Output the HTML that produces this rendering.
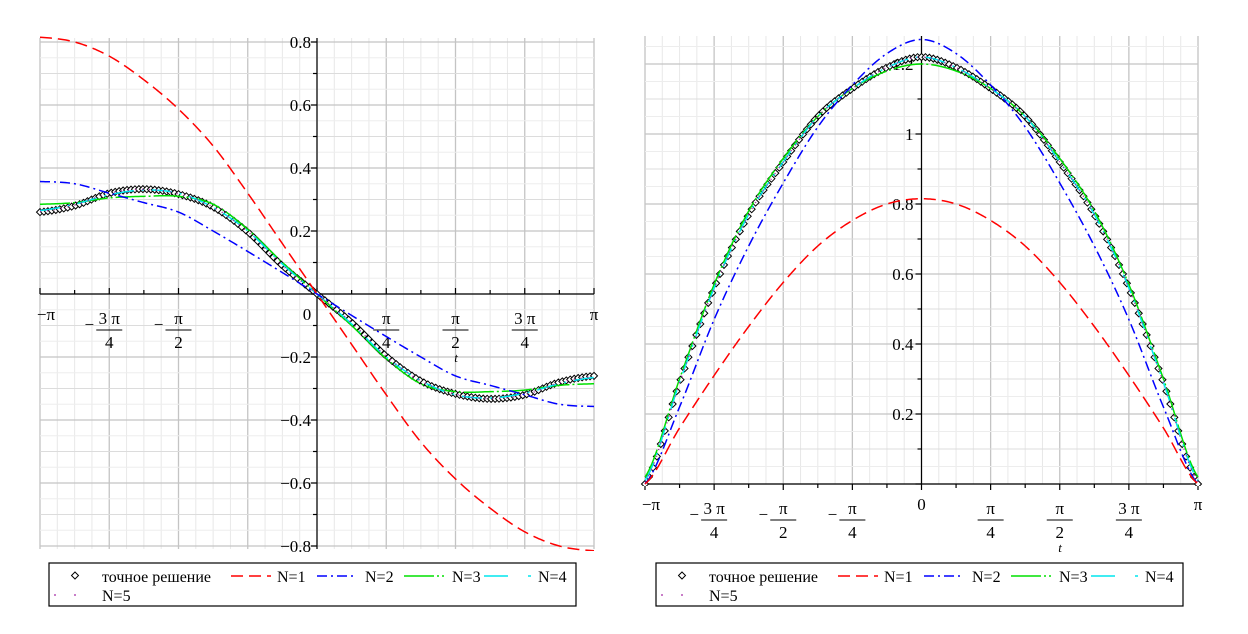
<!DOCTYPE html>
<html><head><meta charset="utf-8">
<style>
body{margin:0;background:#fff;}
svg{display:block;font-family:"Liberation Serif",serif;}
</style></head>
<body>
<svg id="c" width="1248" height="634" xmlns="http://www.w3.org/2000/svg"></svg>
<script>
// sample points t = -π .. π step π/8
const tSteps = [-8,-7,-6,-5,-4,-3,-2,-1,0,1,2,3,4,5,6,7,8];
// left plot (odd functions)
const leftExact = [0.26,0.28,0.32,0.333,0.317,0.276,0.197,0.09,0,-0.09,-0.197,-0.276,-0.317,-0.333,-0.32,-0.28,-0.26];
const leftN1 = [0.815,0.80,0.755,0.68,0.587,0.47,0.32,0.16,0,-0.16,-0.32,-0.47,-0.587,-0.68,-0.755,-0.80,-0.815];
const leftN2 = [0.357,0.35,0.32,0.29,0.26,0.2,0.135,0.068,0,-0.068,-0.135,-0.2,-0.26,-0.29,-0.32,-0.35,-0.357];
const leftN3 = [0.285,0.29,0.305,0.31,0.31,0.285,0.205,0.1,0,-0.1,-0.205,-0.285,-0.31,-0.31,-0.305,-0.29,-0.285];
const leftN4 = [0.265,0.285,0.315,0.33,0.32,0.275,0.2,0.095,0,-0.095,-0.2,-0.275,-0.32,-0.33,-0.315,-0.285,-0.265];
const leftN5 = [0.262,0.282,0.32,0.332,0.318,0.276,0.198,0.091,0,-0.091,-0.198,-0.276,-0.318,-0.332,-0.32,-0.282,-0.262];
const leftYTicks = [-0.8,-0.6,-0.4,-0.2,0.2,0.4,0.6,0.8];
// right plot (even functions)
const rightExact = [0,0.29,0.56,0.77,0.92,1.05,1.13,1.19,1.22,1.19,1.13,1.05,0.92,0.77,0.56,0.29,0];
const rightN1 = [0,0.16,0.31,0.45,0.576,0.68,0.753,0.8,0.815,0.8,0.753,0.68,0.576,0.45,0.31,0.16,0];
const rightN2 = [0,0.22,0.47,0.68,0.86,1.02,1.14,1.23,1.27,1.23,1.14,1.02,0.86,0.68,0.47,0.22,0];
const rightN3 = [0.02,0.3,0.57,0.78,0.93,1.05,1.13,1.18,1.2,1.18,1.13,1.05,0.93,0.78,0.57,0.3,0.02];
const rightN4 = [0.01,0.29,0.56,0.77,0.92,1.05,1.13,1.19,1.22,1.19,1.13,1.05,0.92,0.77,0.56,0.29,0.01];
const rightN5 = [0.005,0.29,0.56,0.77,0.92,1.05,1.13,1.19,1.22,1.19,1.13,1.05,0.92,0.77,0.56,0.29,0.005];
const rightYTicks = [0.2,0.4,0.6,0.8,1,1.2];
const leftXTickLabels = [["−π",null],["3 π","4"],["π","2"],null,["0",null],["π","4"],["π","2"],["3 π","4"],["π",null]];
const rightXTickLabels = [["−π",null],["3 π","4"],["π","2"],["π","4"],["0",null],["π","4"],["π","2"],["3 π","4"],["π",null]];
const legendLabels = ["точное решение","N=1","N=2","N=3","N=4","N=5"];

const NS="http://www.w3.org/2000/svg";
const svg=document.getElementById('c');
function mk(tag,attrs,parent){const e=document.createElementNS(NS,tag);for(const k in attrs)e.setAttribute(k,attrs[k]);(parent||svg).appendChild(e);return e;}
function txt(s,x,y,size,anchor,parent,italic){const e=mk('text',{x:x,y:y,'font-size':size,'text-anchor':anchor||'middle',fill:'#000'},parent);if(italic)e.setAttribute('font-style','italic');e.textContent=s;return e;}

function crEval(vals,u){
  let i=Math.min(Math.floor(u),15);const f=u-i;
  const p0=vals[Math.max(i-1,0)],p1=vals[i],p2=vals[i+1],p3=vals[Math.min(i+2,16)];
  return 0.5*((2*p1)+(-p0+p2)*f+(2*p0-5*p1+4*p2-p3)*f*f+(-p0+3*p1-3*p2+p3)*f*f*f);
}

function plot(cfg){
  const g=mk('g',{},svg);
  
  
  const X=t=>cfg.x0+(t+Math.PI)/(2*Math.PI)*(cfg.x1-cfg.x0);
  const Y=v=>cfg.yz-v*cfg.ys;
  const vmin=(cfg.yz-cfg.bottom)/cfg.ys, vmax=(cfg.yz-cfg.top)/cfg.ys;
  const grid=mk('g',{},g);
  
  
  for(let k=-16;k<=16;k++){const x=X(k*Math.PI/16);const major=k%4===0;
    mk('line',{x1:x,x2:x,y1:cfg.top,y2:cfg.bottom,stroke:major?'#c4c4c4':'#e8e8e8','stroke-width':major?1.3:1},grid);}
  for(let k=Math.ceil(vmin*20);k<=Math.floor(vmax*20);k++){const y=Y(k/20);const major=k%4===0;const mid=k%2===0;
    mk('line',{x1:cfg.x0,x2:cfg.x1,y1:y,y2:y,stroke:major?'#c4c4c4':(mid?'#dcdcdc':'#ededed'),'stroke-width':major?1.3:1},grid);}
  const ax=mk('g',{stroke:'#000','stroke-width':1.2},g);
  
  
  const xa=Y(0), ya=X(0);
  mk('line',{x1:cfg.x0,x2:cfg.x1,y1:xa,y2:xa},ax);
  mk('line',{x1:ya,x2:ya,y1:cfg.top,y2:cfg.bottom},ax);
  for(let k=-16;k<=16;k++){if(k%2)continue;const x=X(k*Math.PI/16);const L=k%4===0?6:4;mk('line',{x1:x,x2:x,y1:xa,y2:xa+(cfg.tickDown?L:-L)},ax);}
  for(let k=Math.ceil(vmin*10);k<=Math.floor(vmax*10);k++){const y=Y(k/10);const L=k%2===0?6:4;mk('line',{x1:ya,x2:ya-L,y1:y,y2:y},ax);}
  cfg.yticks.forEach(v=>{const t=txt((v<0?'−':'')+String(Math.abs(v)),ya-cfg.ylabOff,Y(v)+6,17,'end',g);
    });
  cfg.xlabels.forEach((lab,i)=>{if(!lab)return;const t=-Math.PI+i*Math.PI/4;const x=X(t);const neg=t<-0.01;
    const lg=mk('g',{},g);
    if(lab[1]===null){
      if(lab[0]==='0') txt('0',x-cfg.zeroOff,cfg.labY,17,'middle',lg);
      else txt(lab[0],x+(neg?6:0),cfg.labY,17,'middle',lg);
    } else {
      const cx=x;
      if(neg) txt('−',cx-20,cfg.labY+10,17,'middle',lg);
      txt(lab[0],cx,cfg.labY+4,17,'middle',lg);
      mk('line',{x1:cx-13,x2:cx+13,y1:cfg.labY+10,y2:cfg.labY+10,stroke:'#000','stroke-width':1},lg);
      txt(lab[1],cx,cfg.labY+28,17,'middle',lg);
    }});
  const tl=txt('t',cfg.tX,cfg.tY,13,'middle',g,true);
  
  const clip='clip'+cfg.name;
  const cp=mk('clipPath',{id:clip},g);mk('rect',{x:cfg.x0-8,y:cfg.top-2,width:cfg.x1-cfg.x0+16,height:cfg.bottom-cfg.top+4},cp);
  const sg=mk('g',{'clip-path':'url(#'+clip+')'},g);
  const dg=mk('g',{fill:'#fff',stroke:'#000','stroke-width':1},sg);
  
  for(let j=0;j<=140;j++){const u=j*16/140;const t=-Math.PI+u*Math.PI/8;const x=X(t),y=Y(crEval(cfg.exact,u));
    const d=mk('path',{d:`M${x} ${y-3.5}L${x+3.5} ${y}L${x} ${y+3.5}L${x-3.5} ${y}Z`},dg);
    }
  const series=[[cfg.n3,'#00e000','30,3,2,3','series-n3'],[cfg.n4,'#00e5ee','20,8,2,8','series-n4'],[cfg.n5,'#a020a0','1,6','series-n5'],[cfg.n2,'#0000ff','10,4,2,4','series-n2'],[cfg.n1,'#ff0000','12,6','series-n1']];
  series.forEach(s=>{let d='';for(let j=0;j<=320;j++){const u=j*16/320;const t=-Math.PI+u*Math.PI/8;d+=(j?'L':'M')+X(t).toFixed(2)+' '+Y(crEval(s[0],u)).toFixed(2);}
    const p=mk('path',{d:d,fill:'none',stroke:s[1],'stroke-width':1.5,'stroke-dasharray':s[2]},sg);
    });
  const lx=cfg.legX, ly=563;
  const lgd=mk('g',{},g);
  mk('rect',{x:lx,y:ly,width:527,height:43,fill:'#fff',stroke:'#000','stroke-width':1.2},lgd);
  const r1=ly+19, r2=ly+38;
  const e0=mk('g',{},lgd);
  mk('path',{d:`M${lx+26} ${r1-10}l3.5 3.5l-3.5 3.5l-3.5 -3.5Z`,fill:'#fff',stroke:'#000','stroke-width':1},e0);
  txt(legendLabels[0],lx+53,r1,16,'start',e0);
  const ents=[[lx+182,40,'#ff0000','12,6',legendLabels[1],lx+228],[lx+268,40,'#0000ff','10,4,2,4',legendLabels[2],lx+316],[lx+355,40,'#00e000','30,3,2,3',legendLabels[3],lx+403],[lx+435,48,'#00e5ee','24,20,3,100',legendLabels[4],lx+489]];
  ents.forEach((e,i)=>{const eg=mk('g',{},lgd);
    mk('line',{x1:e[0],x2:e[0]+e[1],y1:r1-6,y2:r1-6,stroke:e[2],'stroke-width':1.5,'stroke-dasharray':e[3]},eg);txt(e[4],e[5],r1,16,'start',eg);});
  const e5=mk('g',{},lgd);
  mk('circle',{cx:lx+6,cy:r2-6,r:0.9,fill:'#a020a0'},e5);mk('circle',{cx:lx+26,cy:r2-6,r:0.9,fill:'#a020a0'},e5);
  txt(legendLabels[5],lx+53,r2,16,'start',e5);
}

plot({name:'left-plot',x0:40,x1:594,yz:294,ys:315,top:38,bottom:549,exact:leftExact,n1:leftN1,n2:leftN2,n3:leftN3,n4:leftN4,n5:leftN5,yticks:leftYTicks,xlabels:leftXTickLabels,ylabOff:6,labY:320,zeroOff:10,tickDown:false,tX:456,tY:362,legX:49});
plot({name:'right-plot',x0:645,x1:1198,yz:484,ys:350,top:36,bottom:484,exact:rightExact,n1:rightN1,n2:rightN2,n3:rightN3,n4:rightN4,n5:rightN5,yticks:rightYTicks,xlabels:rightXTickLabels,ylabOff:8,labY:510,zeroOff:0,tickDown:true,tX:1060,tY:552,legX:656});
</script>
</body></html>
